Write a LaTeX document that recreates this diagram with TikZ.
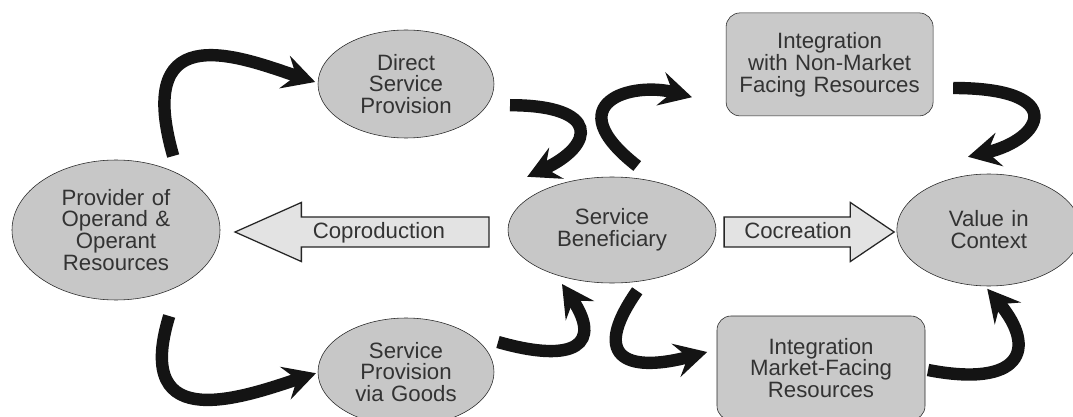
\documentclass[tikz,border=0pt]{standalone}
\usepackage{fontspec}
\setmainfont{Liberation Sans}
\usetikzlibrary{arrows.meta,positioning,shapes.geometric,shapes.arrows}

\begin{document}
\begin{tikzpicture}[on grid, >={Stealth[length=0.8cm,width=0.85cm,inset=0.3cm]}]
    \tikzset{oval/.style= {draw=black!85, ellipse
    , fill=black!22
    , inner sep=0pt
    , text width=3.2cm
    , align=center
    , text=black!80
    , font=\fontsize{15.8}{15.6}\selectfont
      }
    , block/.style= {draw=black!85, rectangle
    , rounded corners=0.35cm
    , fill=black!21
    , minimum width=5.2cm, minimum height=2.6cm
    , text width=4.9cm
    , align=center
    , text=black!80
    , font=\fontsize{15.8}{15.6}\selectfont
      }
    , bigarrow/.style= {draw=black!85, single arrow
    , fill=black!11
    , line width=0.9pt
    , inner xsep=0.15cm, inner ysep=0.1cm
    , text height=0.42cm, text depth=0.1cm
    , single arrow head extend=0.3625cm
    , text=black!80
    , font=\fontsize{15.8}{15.6}\selectfont
      }
    , swoosh/.style= {line width=0.31cm, black!92}
    }

\useasboundingbox[fill=white] (0,0) rectangle (26.825,-10.425);

\node [oval, minimum width=5.2cm, minimum height=3.5cm] (provider) at (2.9,-5.75) {Provider of\\Operand \&\\Operant\\Resources};
\node [oval, minimum width=5.2cm, minimum height=2.65cm, right=12.4cm of provider] (benef) {Service\\Beneficiary};
\node [oval, minimum width=4.6cm, minimum height=2.8cm, right=9.42cm of benef] (value) {Value in\\Context};
\node [oval, minimum width=4.4cm, minimum height=2.7cm, text width=2.9cm, above right=3.65cm and 7.25cm of provider] (direct) {Direct\\Service\\Provision};
\node [oval, minimum width=4.4cm, minimum height=2.7cm, text width=2.9cm, below right=3.55cm and 7.25cm of provider] (goods) {Service\\Provision\\via Goods};
\node [block, minimum width=5.175cm, minimum height=2.575cm, above right=4.14cm and 5.44cm of benef] (intnm) {Integration\\with Non-Market\\Facing Resources};
\node [block, below right=3.45cm and 5.225cm of benef] (intm) {Integration\\Market-Facing\\Resources};

\node [bigarrow, minimum height=6.35cm, single arrow tip angle=48, shape border rotate=180, anchor=tip] (coprod) at ([xshift=0.33cm, yshift=-0.05cm]provider.east) {Coproduction};
\node [bigarrow, minimum height=4.25cm, single arrow tip angle=68, anchor=tail] (cocre) at ([xshift=0.18cm, yshift=-0.05cm]benef.east) {Cocreation};

 \path[draw, ->, swoosh]
  ([shift={(1.43,1.85)}]provider.center) to[out=106, in=162, out distance=3.77cm, in distance=1.77cm] ([shift={(-2.27,0.05)}]direct.center);
 \path[draw, ->, swoosh]
  ([shift={(1.33,-2.15)}]provider.center) to[out=253, in=198, out distance=3.21cm, in distance=1.79cm] ([shift={(-2.25,-0.03)}]goods.center);
 \path[draw, ->, swoosh]
  ([shift={(2.6,-0.53)}]direct.center) to[out=0, in=25, out distance=2.25cm, in distance=1.9cm] ([shift={(-2.12,1.33)}]benef.center);
 \path[draw, ->, swoosh]
  ([shift={(0.63,1.6)}]benef.center) to[out=142, in=165, out distance=2.57cm, in distance=1.55cm] ([shift={(-3.44,-0.82)}]intnm.center);
 \path[draw, ->, swoosh]
  ([shift={(3.09,-0.59)}]intnm.center) to[out=0, in=13, out distance=2.87cm, in distance=1.95cm] ([shift={(-0.52,1.83)}]value.center);
 \path[draw, ->, swoosh]
  ([shift={(2.3,0.75)}]goods.center) to[out=-16, in=-56, out distance=2.03cm, in distance=1.8cm] ([shift={(-1.25,-1.35)}]benef.center);
 \path[draw, ->, swoosh]
  ([shift={(0.63,-1.52)}]benef.center) to[out=235, in=195, out distance=2.2cm, in distance=1.9cm] ([shift={(-2.845,0.4)}]intm.center);
 \path[draw, ->, swoosh]
  ([shift={(2.675,-0.05)}]intm.center) to[out=-11, in=-50, out distance=2.34cm, in distance=2.0cm] ([shift={(-0.04,-1.47)}]value.center);
\end{tikzpicture}
\end{document}
